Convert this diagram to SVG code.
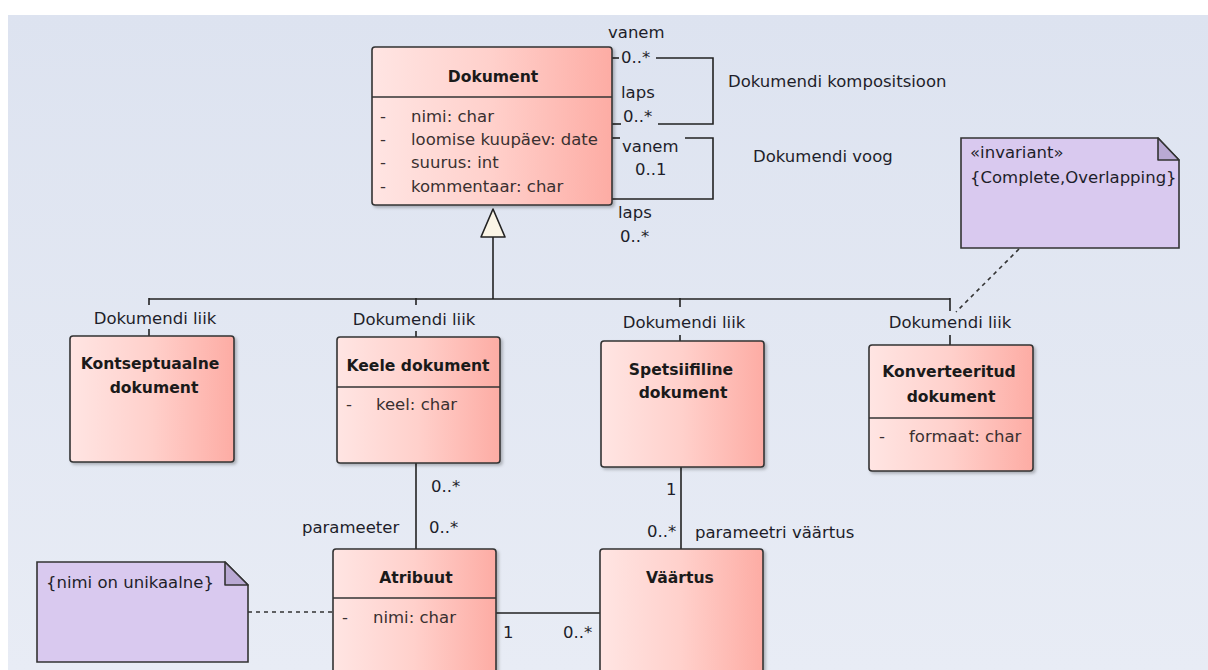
<svg xmlns="http://www.w3.org/2000/svg" width="1208" height="670" viewBox="0 0 1208 670">
  <defs>
    <linearGradient id="bg" x1="0" y1="0" x2="0" y2="1">
      <stop offset="0" stop-color="#dde3f0"/>
      <stop offset="1" stop-color="#e8ecf5"/>
    </linearGradient>
    <linearGradient id="cls" x1="0" y1="0" x2="1" y2="0">
      <stop offset="0" stop-color="#ffe5e3"/>
      <stop offset="0.5" stop-color="#ffd0cb"/>
      <stop offset="1" stop-color="#fdaca4"/>
    </linearGradient>
    <filter id="shadow" x="-10%" y="-10%" width="130%" height="130%">
      <feDropShadow dx="2" dy="2" stdDeviation="1.5" flood-color="#000" flood-opacity="0.25"/>
    </filter>
    <style>
      .box { fill: url(#cls); stroke: #333; stroke-width: 1.6; filter: url(#shadow); }
      .div { stroke: #333; stroke-width: 1.6; }
      .note { fill: #d9c9ef; stroke: #333; stroke-width: 1.6; }
      .fold { fill: #b9a9d3; stroke: #333; stroke-width: 1.6; stroke-linejoin: round; }
      .ln { stroke: #222; stroke-width: 1.6; fill: none; }
      .dash { stroke: #333; stroke-width: 1.6; fill: none; stroke-dasharray: 4 4; }
      text { font-family: "DejaVu Sans", Verdana, sans-serif; font-size: 16.5px; fill: #1e1e2a; }
      .t { font-weight: bold; font-size: 15.6px; text-anchor: middle; fill: #1a1a1a; }
      .a { fill: #3a3030; }
    </style>
  </defs>

  <!-- canvas -->
  <rect width="1208" height="670" fill="#ffffff"/>
  <rect x="8" y="15" width="1200" height="655" fill="url(#bg)"/>

  <!-- connectors -->
  <g id="connectors">
    <!-- composition self-loop -->
    <polyline class="ln" points="612,58 619,58"/>
    <polyline class="ln" points="656,58 713,58 713,124 658,124"/>
    <polyline class="ln" points="621,124 612,124"/>
    <!-- flow self-loop -->
    <polyline class="ln" points="612,138 620,138"/>
    <polyline class="ln" points="685,138 713,138 713,199 612,199"/>

    <!-- generalisation tree -->
    <line class="ln" x1="493" y1="237" x2="493" y2="299"/>
    <polygon points="481,237 493,209 505,237" fill="#fbf5e6" stroke="#222" stroke-width="1.6" stroke-linejoin="round"/>
    <line class="ln" x1="149" y1="299" x2="950" y2="299"/>
    <line class="ln" x1="149" y1="298" x2="149" y2="305"/>
    <line class="ln" x1="149" y1="329" x2="149" y2="336"/>
    <line class="ln" x1="416" y1="298" x2="416" y2="305"/>
    <line class="ln" x1="416" y1="331" x2="416" y2="337"/>
    <line class="ln" x1="680" y1="298" x2="680" y2="307"/>
    <line class="ln" x1="680" y1="335" x2="680" y2="341"/>
    <line class="ln" x1="950" y1="298" x2="950" y2="311"/>
    <line class="ln" x1="950" y1="335" x2="950" y2="345"/>

    <!-- note links -->
    <line class="dash" x1="1019" y1="249" x2="956" y2="312"/>
    <line class="dash" x1="248" y1="612" x2="333" y2="612"/>

    <!-- associations -->
    <line class="ln" x1="416" y1="463" x2="416" y2="549"/>
    <line class="ln" x1="681" y1="467" x2="681" y2="549"/>
    <line class="ln" x1="496" y1="613" x2="600" y2="613"/>

    <!-- connector labels -->
    <text x="608" y="38">vanem</text>
    <text x="621" y="63">0..*</text>
    <text x="621" y="98">laps</text>
    <text x="623" y="122">0..*</text>
    <text x="728" y="87">Dokumendi kompositsioon</text>

    <text x="622" y="152">vanem</text>
    <text x="635" y="175">0..1</text>
    <text x="618" y="218">laps</text>
    <text x="620" y="242">0..*</text>
    <text x="753" y="162">Dokumendi voog</text>

    <text x="155" y="324" text-anchor="middle">Dokumendi liik</text>
    <text x="414" y="325" text-anchor="middle">Dokumendi liik</text>
    <text x="684" y="328" text-anchor="middle">Dokumendi liik</text>
    <text x="950" y="328" text-anchor="middle">Dokumendi liik</text>

    <text x="431" y="492">0..*</text>
    <text x="302" y="533">parameeter</text>
    <text x="429" y="533">0..*</text>

    <text x="666" y="495">1</text>
    <text x="647" y="537">0..*</text>
    <text x="695" y="538">parameetri väärtus</text>

    <text x="503" y="638">1</text>
    <text x="563" y="638">0..*</text>
  </g>

  <!-- classes -->
  <g id="dokument">
    <rect class="box" x="372" y="47" width="240" height="158" rx="3"/>
    <line class="div" x1="372" y1="97" x2="612" y2="97"/>
    <text class="t" x="493" y="82">Dokument</text>
    <text class="a" x="380" y="122">-</text>
    <text class="a" x="411" y="122">nimi: char</text>
    <text class="a" x="380" y="145">-</text>
    <text class="a" x="411" y="145">loomise kuupäev: date</text>
    <text class="a" x="380" y="168">-</text>
    <text class="a" x="411" y="168">suurus: int</text>
    <text class="a" x="380" y="192">-</text>
    <text class="a" x="411" y="192">kommentaar: char</text>
  </g>

  <g id="kontseptuaalne">
    <rect class="box" x="70" y="336" width="164" height="126" rx="3"/>
    <text class="t" x="150" y="369">Kontseptuaalne</text>
    <text class="t" x="154" y="393">dokument</text>
  </g>

  <g id="keele">
    <rect class="box" x="337" y="337" width="163" height="126" rx="3"/>
    <line class="div" x1="337" y1="387" x2="500" y2="387"/>
    <text class="t" x="418" y="371">Keele dokument</text>
    <text class="a" x="346" y="410">-</text>
    <text class="a" x="376" y="410">keel: char</text>
  </g>

  <g id="spetsiifiline">
    <rect class="box" x="601" y="341" width="163" height="126" rx="3"/>
    <text class="t" x="681" y="375">Spetsiifiline</text>
    <text class="t" x="683" y="398">dokument</text>
  </g>

  <g id="konverteeritud">
    <rect class="box" x="869" y="345" width="164" height="126" rx="3"/>
    <line class="div" x1="869" y1="418" x2="1033" y2="418"/>
    <text class="t" x="949" y="377">Konverteeritud</text>
    <text class="t" x="951" y="402">dokument</text>
    <text class="a" x="879" y="442">-</text>
    <text class="a" x="909" y="442">formaat: char</text>
  </g>

  <g id="atribuut">
    <rect class="box" x="333" y="549" width="163" height="150" rx="3"/>
    <line class="div" x1="333" y1="598" x2="496" y2="598"/>
    <text class="t" x="416" y="583">Atribuut</text>
    <text class="a" x="342" y="623">-</text>
    <text class="a" x="373" y="623">nimi: char</text>
  </g>

  <g id="vaartus">
    <rect class="box" x="600" y="549" width="163" height="150" rx="3"/>
    <text class="t" x="680" y="583">Väärtus</text>
  </g>

  <!-- notes -->
  <g id="note-invariant">
    <path class="note" d="M961,138 H1158 L1179,160 V248 H961 Z"/>
    <path class="fold" d="M1158,138 V160 H1179 Z"/>
    <text x="970" y="158">«invariant»</text>
    <text x="970" y="183">{Complete,Overlapping}</text>
  </g>

  <g id="note-unikaalne">
    <path class="note" d="M37,562 H225 L248,585 V662 H37 Z"/>
    <path class="fold" d="M225,562 V585 H248 Z"/>
    <text x="46" y="588">{nimi on unikaalne}</text>
  </g>
</svg>
